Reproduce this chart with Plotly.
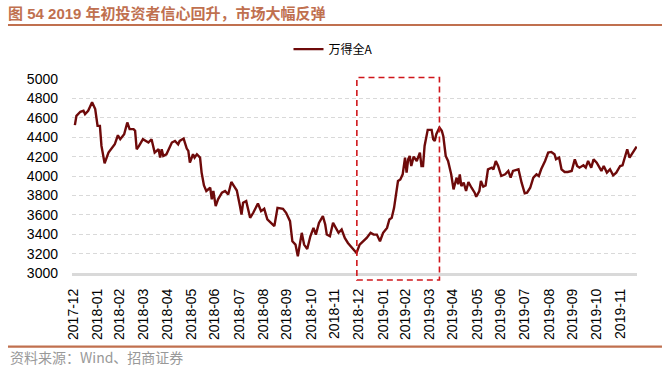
import plotly.graph_objects as go

dates = [
"2018-01-02","2018-01-04","2018-01-09","2018-01-13","2018-01-15","2018-01-19","2018-01-24","2018-01-28","2018-01-31","2018-02-03",
"2018-02-05","2018-02-09","2018-02-14","2018-02-22","2018-02-26","2018-03-01","2018-03-06","2018-03-10","2018-03-13","2018-03-18",
"2018-03-20","2018-03-22","2018-03-25","2018-03-30","2018-04-06","2018-04-10","2018-04-14","2018-04-19","2018-04-21","2018-04-23",
"2018-04-25","2018-04-29","2018-05-06","2018-05-10","2018-05-14","2018-05-16","2018-05-21","2018-05-25","2018-05-27","2018-05-29",
"2018-06-02","2018-06-04","2018-06-07","2018-06-11","2018-06-13","2018-06-16","2018-06-19","2018-06-24","2018-06-26","2018-06-28",
"2018-07-01","2018-07-04","2018-07-09","2018-07-13","2018-07-17","2018-07-21","2018-07-24","2018-07-28","2018-08-01","2018-08-03",
"2018-08-05","2018-08-09","2018-08-11","2018-08-14","2018-08-18","2018-08-24","2018-08-28","2018-09-01","2018-09-05","2018-09-10",
"2018-09-14","2018-09-18","2018-09-25","2018-09-29","2018-10-04","2018-10-07","2018-10-11","2018-10-14","2018-10-17","2018-10-19",
"2018-10-22","2018-10-26","2018-10-30","2018-11-03","2018-11-06","2018-11-10","2018-11-15","2018-11-18","2018-11-20","2018-11-24",
"2018-11-28","2018-12-02","2018-12-05","2018-12-09","2018-12-13","2018-12-17","2018-12-22","2018-12-26","2018-12-28","2019-01-01",
"2019-01-06","2019-01-10","2019-01-15","2019-01-19","2019-01-23","2019-01-27","2019-01-31","2019-02-05","2019-02-08","2019-02-11",
"2019-02-14","2019-02-19","2019-02-22","2019-02-25","2019-02-28","2019-03-02","2019-03-04","2019-03-06","2019-03-08","2019-03-11",
"2019-03-15","2019-03-19","2019-03-21","2019-03-23","2019-03-25","2019-03-27","2019-03-29","2019-04-03","2019-04-05","2019-04-07",
"2019-04-09","2019-04-13","2019-04-16","2019-04-18","2019-04-21","2019-04-24","2019-04-28","2019-05-01","2019-05-05","2019-05-07",
"2019-05-09","2019-05-11","2019-05-14","2019-05-17","2019-05-20","2019-05-24","2019-05-28","2019-05-30","2019-06-03","2019-06-05",
"2019-06-08","2019-06-11","2019-06-14","2019-06-19","2019-06-21","2019-06-24","2019-06-27","2019-07-01","2019-07-06","2019-07-10",
"2019-07-13","2019-07-16","2019-07-23","2019-07-27","2019-07-31","2019-08-03","2019-08-07","2019-08-11","2019-08-15","2019-08-18",
"2019-08-21","2019-08-26","2019-08-30","2019-09-03","2019-09-07","2019-09-09","2019-09-13","2019-09-16","2019-09-20","2019-09-24",
"2019-09-29","2019-10-03","2019-10-06","2019-10-09","2019-10-14","2019-10-17","2019-10-20","2019-10-24","2019-10-27","2019-10-31",
"2019-11-03","2019-11-06","2019-11-09","2019-11-13","2019-11-17","2019-11-21","2019-11-25","2019-11-30","2019-12-03","2019-12-06",
"2019-12-09","2019-12-12","2019-12-16","2019-12-21",
]

wind_all_a = [
4524,4620,4662,4672,4638,4672,4760,4690,4517,4517,
4310,4131,4241,4327,4420,4379,4431,4552,4483,4483,
4466,4276,4310,4380,4345,4379,4241,4276,4190,4276,
4207,4224,4345,4362,4327,4362,4386,4283,4259,4138,
4224,4190,4224,4190,4035,3903,3845,3879,3759,3845,
3690,3759,3828,3845,3810,3938,3900,3850,3690,3603,
3724,3741,3672,3569,3621,3717,3638,3662,3552,3517,
3483,3672,3662,3621,3534,3327,3293,3172,3327,3414,
3293,3248,3379,3465,3396,3517,3586,3500,3396,3379,
3517,3448,3414,3448,3362,3310,3259,3224,3207,3293,
3327,3362,3414,3396,3396,3327,3414,3465,3552,3569,
3672,3948,3965,4017,4190,4035,4172,4207,4103,4200,
4155,4241,4103,4103,4310,4414,4476,4476,4379,4362,
4431,4500,4466,4407,4207,4155,4017,3862,3983,3914,
4017,3896,3931,3845,3938,3879,3828,3786,3845,3948,
3890,3903,4069,4086,4069,4155,4103,4000,4017,4052,
3983,4052,4069,3931,3821,3828,3879,3983,4017,4000,
4069,4155,4241,4248,4224,4172,4190,4069,4041,4041,
4052,4172,4103,4086,4110,4086,4155,4086,4172,4138,
4086,4052,4103,4035,4069,4007,4035,4103,4110,4207,
4276,4190,4241,4303,
]

tick_dates = [
"2017-12-31","2018-01-31","2018-02-28","2018-03-31","2018-04-30","2018-05-31","2018-06-30","2018-07-31",
"2018-08-31","2018-09-30","2018-10-31","2018-11-30","2018-12-31","2019-01-31","2019-02-28","2019-03-31",
"2019-04-30","2019-05-31","2019-06-30","2019-07-31","2019-08-31","2019-09-30","2019-10-31","2019-11-30",
]
tick_labels = [d[:7] for d in tick_dates]

series_name = "万得全A"
title_text = "图 54 2019 年初投资者信心回升，市场大幅反弹"
source_text = "资料来源：Wind、招商证券"

# highlighted period (dashed box)
box_start, box_end = "2018-12-28 10:00", "2019-04-13 00:00"

FONT = "Liberation Sans, Arial, Noto Sans CJK SC, sans-serif"
ACCENT = "#C0704F"

fig = go.Figure()
fig.add_trace(go.Scatter(
    x=dates, y=wind_all_a, mode="lines", name=series_name,
    line=dict(color="#6E0A0A", width=2.4),
))

fig.update_layout(
    width=670, height=369,
    margin=dict(l=72, r=33, t=79, b=96, autoexpand=False),
    paper_bgcolor="white", plot_bgcolor="white",
    font=dict(family=FONT, size=12, color="#000000"),
    showlegend=True,
    legend=dict(orientation="h", xref="container", yref="container",
                x=0.497, y=0.867, xanchor="center", yanchor="middle",
                font=dict(size=12, color="#000000", family="Noto Sans CJK SC, Liberation Sans"),
                itemwidth=30),
    title=dict(text="<b>" + title_text + "</b>", xref="container", yref="container",
               x=0.012, y=0.963, xanchor="left", yanchor="middle",
               font=dict(size=15, color=ACCENT, family="Liberation Sans, Noto Sans CJK SC")),
    xaxis=dict(
        type="date",
        range=["2017-12-29 08:00", "2019-12-21 12:00"],
        tickmode="array", tickvals=tick_dates, ticktext=tick_labels,
        tickangle=-90, tickfont=dict(size=14, color="#000000"),
        showgrid=False, zeroline=False,
        showline=True, linecolor="#D9D9D9", linewidth=3,
        ticks="", ticklabelstandoff=7,
    ),
    yaxis=dict(
        range=[3000, 5000], tickmode="linear", tick0=3000, dtick=200,
        tickfont=dict(size=14, color="#000000"),
        showgrid=True, gridcolor="#D9D9D9", gridwidth=1, griddash="4px,3px",
        zeroline=False, showline=False, ticks="", ticklabelstandoff=13,
    ),
    shapes=[
        dict(type="rect", xref="x", yref="paper", x0=box_start, x1=box_end, y0=-0.036, y1=1.0075,
             line=dict(color="#D0161B", width=1.6, dash="6px,4px"), fillcolor="rgba(0,0,0,0)", layer="above"),
        dict(type="line", xref="paper", yref="paper", x0=-0.1133, x1=1.0442, y0=1.2784, y1=1.2784,
             line=dict(color=ACCENT, width=2.2)),
        dict(type="line", xref="paper", yref="paper", x0=-0.1133, x1=1.0442, y0=-0.380, y1=-0.380,
             line=dict(color=ACCENT, width=2.2)),
    ],
    annotations=[
        dict(text=source_text, xref="paper", yref="paper", x=-0.1133, y=-0.431,
             xanchor="left", yanchor="middle", showarrow=False,
             font=dict(size=14, color="#999999", family="Noto Sans CJK SC, Liberation Sans")),
    ],
)

fig.write_html("out.html", config={"displayModeBar": False},
               post_script="document.body.style.margin='0';document.body.style.padding='0';")
